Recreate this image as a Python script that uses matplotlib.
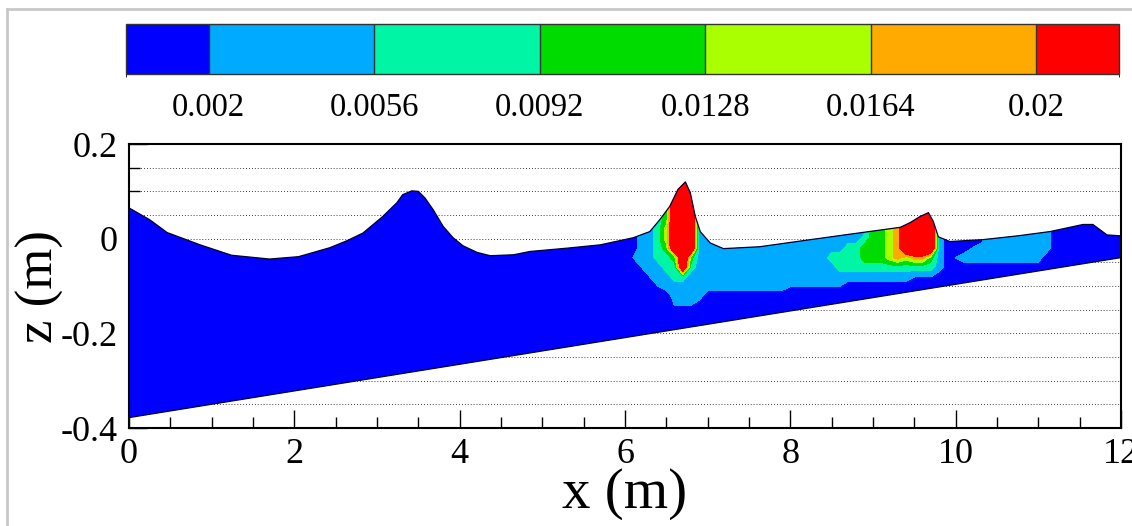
import numpy as np
import matplotlib
matplotlib.use('Agg')
import matplotlib.pyplot as plt
from matplotlib.colors import ListedColormap, BoundaryNorm
from matplotlib.cm import ScalarMappable
from matplotlib.patches import Polygon
from matplotlib.lines import Line2D

plt.rcParams['font.family'] = ['Liberation Serif', 'DejaVu Serif']

# contour levels and colours (Tecplot style legend)
levels = [0.002, 0.0056, 0.0092, 0.0128, 0.0164, 0.02]
level_labels = ['0.002', '0.0056', '0.0092', '0.0128', '0.0164', '0.02']
colors = ['#0000ff', '#00aaff', '#00f5a5', '#00dc00', '#aaff00', '#ffaa00', '#ff0000']

# free surface (x in m, z in m)
surf_x = [0.0, 0.25, 0.46, 0.86, 1.24, 1.70, 2.05, 2.43, 2.64, 2.83, 3.07, 3.24,
          3.31, 3.42, 3.50, 3.58, 3.68, 3.80, 3.92, 4.04, 4.21, 4.37, 4.65, 4.85,
          5.30, 5.70, 6.10, 6.30, 6.42, 6.54, 6.64, 6.73, 6.79, 6.85, 6.91, 7.03,
          7.19, 7.63, 8.12, 8.70, 9.33, 9.45, 9.57, 9.67, 9.73, 9.79, 9.93, 10.33,
          10.75, 11.14, 11.54, 11.66, 11.83, 12.0]
surf_z = [0.065, 0.040, 0.013, -0.013, -0.035, -0.043, -0.038, -0.019, -0.004, 0.012, 0.047, 0.076,
          0.093, 0.101, 0.100, 0.086, 0.061, 0.026, 0.002, -0.015, -0.029, -0.036, -0.034, -0.027,
          -0.020, -0.013, 0.002, 0.015, 0.040, 0.068, 0.104, 0.120, 0.097, 0.047, 0.015, -0.009,
          -0.021, -0.017, -0.005, 0.009, 0.024, 0.034, 0.047, 0.055, 0.036, 0.004, -0.006, -0.002,
          0.006, 0.015, 0.030, 0.030, 0.008, 0.006]

# sloping bed
bed_x = [0.0, 12.0]
bed_z = [-0.378, -0.040]

# sampled field around the breaking zone; one string per x node,
# characters are the legend band at z = 0.14, 0.12, ..., -0.16
x_nodes = np.arange(58, 115) / 10.0
z_nodes = np.arange(14, -17, -2) / 100.0
band_value = {'0': 0.0, '.': 0.0021, '1': 0.0038, '2': 0.0074, '3': 0.011,
              '4': 0.0146, '5': 0.0182, '6': 0.03}
k_cols = [
    "0000000000000000",  # 5.8
    "0000000000000000",  # 5.9
    "0000000000000000",  # 6.0
    "000000000.000000",  # 6.1
    "1111111111.00000",  # 6.2
    "11111111111.0000",  # 6.3
    "222222222211.000",  # 6.4
    "3333334432211000",  # 6.5
    "66666666632211.0",  # 6.6
    "66666666666211.0",  # 6.7
    "66666666632111.0",  # 6.8
    "1111111111111100",  # 6.9
    "1111111111111000",  # 7.0
    "1111111111111000",  # 7.1
    "1111111111111000",  # 7.2
    "1111111111111000",  # 7.3
    "1111111111111000",  # 7.4
    "1111111111111000",  # 7.5
    "1111111111111000",  # 7.6
    "1111111111111000",  # 7.7
    "1111111111111000",  # 7.8
    "1111111111111000",  # 7.9
    "111111111111.000",  # 8.0
    "111111111111.000",  # 8.1
    "111111111111.000",  # 8.2
    "111111111111.000",  # 8.3
    "111111111111.000",  # 8.4
    "111111111211.000",  # 8.5
    "111111111221.000",  # 8.6
    "1111111122210000",  # 8.7
    "1111111122210000",  # 8.8
    "1111111233210000",  # 8.9
    "3333333333210000",  # 9.0
    "3333333333210000",  # 9.1
    "4444444444210000",  # 9.2
    "5555555555210000",  # 9.3
    "6666666664210000",  # 9.4
    "66666666652.0000",  # 9.5
    "66666666652.0000",  # 9.6
    "66666666632.0000",  # 9.7
    "1111111111100000",  # 9.8
    "0000000000000000",  # 9.9
    "000000000.000000",  # 10.0
    "0000000001000000",  # 10.1
    "00000000.1000000",  # 10.2
    "0000000011000000",  # 10.3
    "0000000111000000",  # 10.4
    "1111111111000000",  # 10.5
    "1111111111000000",  # 10.6
    "1111111111000000",  # 10.7
    "1111111111000000",  # 10.8
    "1111111111000000",  # 10.9
    "1111111111000000",  # 11.0
    "1111111110000000",  # 11.1
    "0000000000000000",  # 11.2
    "0000000000000000",  # 11.3
    "0000000000000000",  # 11.4
]

K = np.array([[band_value[c] for c in col] for col in k_cols]).T

fig = plt.figure(figsize=(11.32, 5.26), dpi=100)

# main axes
ax = fig.add_axes([0.1140, 0.1863, 0.8763, 0.5399])
ax.set_xlim(0, 12)
ax.set_ylim(-0.4, 0.2)
ax.set_axisbelow(True)

water = Polygon(np.column_stack([surf_x + bed_x[::-1], surf_z + bed_z[::-1]]),
                closed=True, facecolor=colors[0], edgecolor='none', zorder=1)
ax.add_patch(water)

cs = ax.contourf(x_nodes, z_nodes[::-1], K[::-1], levels=levels + [1.0],
                 colors=colors[1:], zorder=2)
cs.set_clip_path(water)

ax.plot(surf_x, surf_z, color='#000030', lw=0.9, zorder=3)
ax.plot(bed_x, bed_z, color='#000030', lw=0.9, zorder=3)

# ticks
ax.set_xticks(range(0, 13, 2))
ax.set_xticks(np.arange(0, 24.5) / 2, minor=True)
ax.set_yticks([-0.4, -0.2, 0, 0.2])
ax.set_yticklabels(['-0.4', '-0.2', '0', '0.2'])
ax.set_yticks(np.arange(-8, 5) / 20, minor=True)
ax.tick_params(which='both', direction='in', top=False, right=False,
               labelsize=26, width=1)
ax.tick_params(which='major', length=13, pad=8)
ax.tick_params(which='minor', length=8)
ax.tick_params(axis='x', which='major', pad=7)
ax.grid(True, axis='y', which='both', linestyle=(0, (1, 2.5)), color='k', lw=0.6)
for s in ax.spines.values():
    s.set_linewidth(1.5)

ax.set_xlabel('x (m)', fontsize=41, labelpad=-2)
ax.set_ylabel('z (m)', fontsize=38, labelpad=-2)

# legend bar
cax = fig.add_axes([0.1113, 0.8593, 0.8772, 0.0951])
bounds = [0.0002] + levels + [0.0218]
sm = ScalarMappable(norm=BoundaryNorm(bounds, len(colors)), cmap=ListedColormap(colors))
cb = fig.colorbar(sm, cax=cax, orientation='horizontal', spacing='proportional',
                  ticks=levels, drawedges=True)
cb.ax.set_xticklabels(level_labels)
cb.ax.tick_params(length=0, pad=13, labelsize=23.5)
cb.outline.set_linewidth(1)
cb.outline.set_edgecolor('#333333')
cb.dividers.set_color('#333333')
cb.dividers.set_linewidth(1)

# light frame around the figure
fig.add_artist(Line2D([7 / 1132, 1], [1 - 8.5 / 526, 1 - 8.5 / 526],
                      transform=fig.transFigure, color='#c8c8c8', lw=2))
fig.add_artist(Line2D([7 / 1132, 7 / 1132], [0, 1 - 8.5 / 526],
                      transform=fig.transFigure, color='#c8c8c8', lw=2))

fig.savefig('out.png', dpi=100)
